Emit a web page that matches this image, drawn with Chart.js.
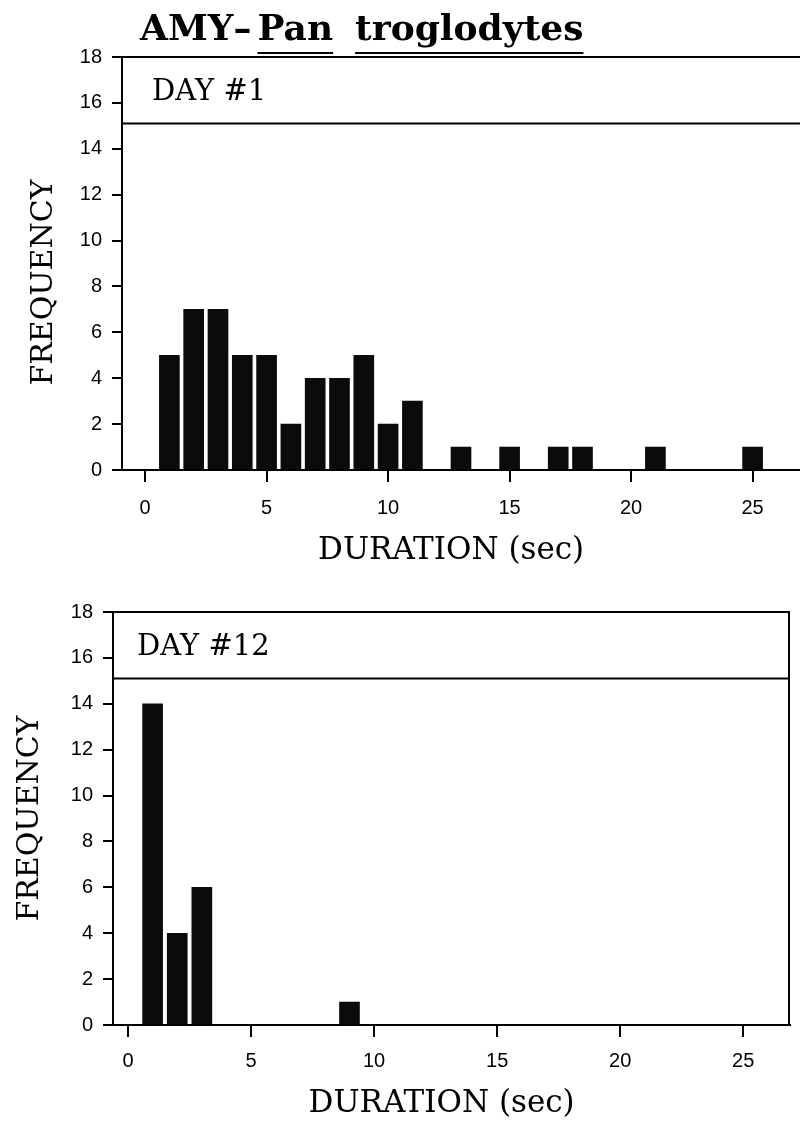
<!DOCTYPE html>
<html>
<head>
<meta charset="utf-8">
<script src="https://cdn.jsdelivr.net/npm/chart.js@4/dist/chart.umd.min.js"></script>
<style>
  html, body { margin: 0; padding: 0; background: #fff; }
  body { width: 800px; height: 1139px; position: relative; overflow: hidden; }
  #title { position: absolute; left: 140px; top: 6px; font-family: "DejaVu Serif", serif; font-weight: bold; font-size: 36px; color: #000; white-space: nowrap; }
  #title .u { text-decoration: underline; text-decoration-thickness: 2px; text-underline-offset: 12px; }
  #title .pan { margin-left: 6px; }
  #title .tro { margin-left: 22px; }
  #c1wrap { position: absolute; left: 0; top: 0; width: 800px; height: 590px; }
  #c2wrap { position: absolute; left: 0; top: 590px; width: 800px; height: 549px; }
</style>
</head>
<body>
<div id="c1wrap"><canvas id="c1"></canvas></div>
<div id="c2wrap"><canvas id="c2"></canvas></div>
<div id="title">AMY–<span class="u pan">Pan</span><span class="u tro">troglodytes</span></div>
<script>
// ---- data ----
const day1Durations = [1, 2, 3, 4, 5, 6, 7, 8, 9, 10, 11, 13, 15, 17, 18, 21, 25];
const day1Frequency = [5, 7, 7, 5, 5, 2, 4, 4, 5, 2, 3, 1, 1, 1, 1, 1, 1];
const day12Durations = [1, 2, 3, 9];
const day12Frequency = [14, 4, 6, 1];
const xTickValues = [0, 5, 10, 15, 20, 25];
const yTickValues = [0, 2, 4, 6, 8, 10, 12, 14, 16, 18];
const panelLabels = ["DAY #1", "DAY #12"];
const xTitle = "DURATION (sec)";
const yTitle = "FREQUENCY";
const headerLineValue = 15.1;

Chart.defaults.font.family = "'Liberation Sans', Arial, sans-serif";
Chart.defaults.color = '#000';

const framePlugin = {
  id: 'frame',
  afterDraw(chart, args, opts) {
    const ctx = chart.ctx;
    const a = chart.chartArea;
    const y = chart.scales.y;
    const yTop = y.getPixelForValue(18);
    const yHead = y.getPixelForValue(headerLineValue);
    ctx.save();
    ctx.strokeStyle = '#000';
    ctx.lineWidth = 2;
    ctx.beginPath();
    ctx.moveTo(a.left - 4, yTop);
    ctx.lineTo(a.right, yTop);
    ctx.moveTo(a.left, yHead);
    ctx.lineTo(a.right, yHead);
    if (opts.rightBorder) {
      ctx.moveTo(a.right - 1, yTop);
      ctx.lineTo(a.right - 1, a.bottom);
    }
    ctx.stroke();
    ctx.fillStyle = '#000';
    ctx.font = opts.labelFont;
    ctx.textBaseline = 'middle';
    ctx.textAlign = 'left';
    ctx.fillText(opts.label, a.left + opts.labelOffset, (yTop + yHead) / 2 + 2);
    ctx.restore();
  }
};

function makeChart(id, durations, freqs, cfg) {
  const data = durations.map((d, i) => ({ x: d, y: freqs[i] }));
  return new Chart(document.getElementById(id), {
    type: 'bar',
    data: {
      datasets: [{
        data: data,
        backgroundColor: '#0b0b0b',
        borderWidth: 0,
        barThickness: 20
      }]
    },
    plugins: [framePlugin],
    options: {
      responsive: true,
      maintainAspectRatio: false,
      animation: false,
      devicePixelRatio: 1,
      layout: { padding: { top: cfg.padTop, left: 0, right: cfg.padRight, bottom: 0 } },
      plugins: {
        legend: { display: false },
        tooltip: { enabled: false },
        frame: { label: cfg.label, labelFont: "29px 'DejaVu Serif'", labelOffset: cfg.labelOffset, rightBorder: cfg.rightBorder }
      },
      scales: {
        x: {
          type: 'linear',
          min: cfg.xMin,
          max: cfg.xMax,
          offset: false,
          afterBuildTicks: (s) => { s.ticks = xTickValues.map(v => ({ value: v })); },
          afterFit: (s) => { s.height = cfg.xHeight; },
          border: { display: true, color: '#000', width: 2 },
          grid: { display: true, offset: false, drawOnChartArea: false, drawTicks: true, tickLength: 12, color: '#000', lineWidth: 2 },
          ticks: { font: { size: 20 }, padding: cfg.xTickPad, maxRotation: 0, autoSkip: false },
          title: { display: true, text: cfg.xTitleText, font: { family: "'DejaVu Serif'", size: 31 }, padding: { top: 0, bottom: cfg.xTitlePad } }
        },
        y: {
          type: 'linear',
          min: 0,
          max: 18,
          afterBuildTicks: (s) => { s.ticks = yTickValues.map(v => ({ value: v })); },
          afterFit: (s) => { s.width = cfg.yWidth; },
          border: { display: true, color: '#000', width: 2 },
          grid: { display: true, drawOnChartArea: false, drawTicks: true, tickLength: 10, color: '#000', lineWidth: 2 },
          ticks: { font: { size: 20 }, padding: 10 },
          title: { display: true, text: cfg.yTitleText, font: { family: "'DejaVu Serif'", size: 30 }, padding: { top: cfg.yTitlePad, bottom: 0 } }
        }
      }
    }
  });
}

makeChart('c1', day1Durations, day1Frequency, {
  padTop: 57, padRight: 0, xHeight: 120, yWidth: 122, xMin: -0.95, xMax: 26.95,
  xTickPad: 14, xTitlePad: 20, yTitlePad: 26,
  label: panelLabels[0], labelOffset: 30, rightBorder: false,
  yTitleText: yTitle + '    ', xTitleText: xTitle + '  '
});
makeChart('c2', day12Durations, day12Frequency, {
  padTop: 20, padRight: 10, xHeight: 114, yWidth: 113, xMin: -0.61, xMax: 26.9,
  xTickPad: 12, xTitlePad: 16, yTitlePad: 12,
  label: panelLabels[1], labelOffset: 24, rightBorder: true,
  yTitleText: yTitle, xTitleText: xTitle + '  '
});
</script>
</body>
</html>
